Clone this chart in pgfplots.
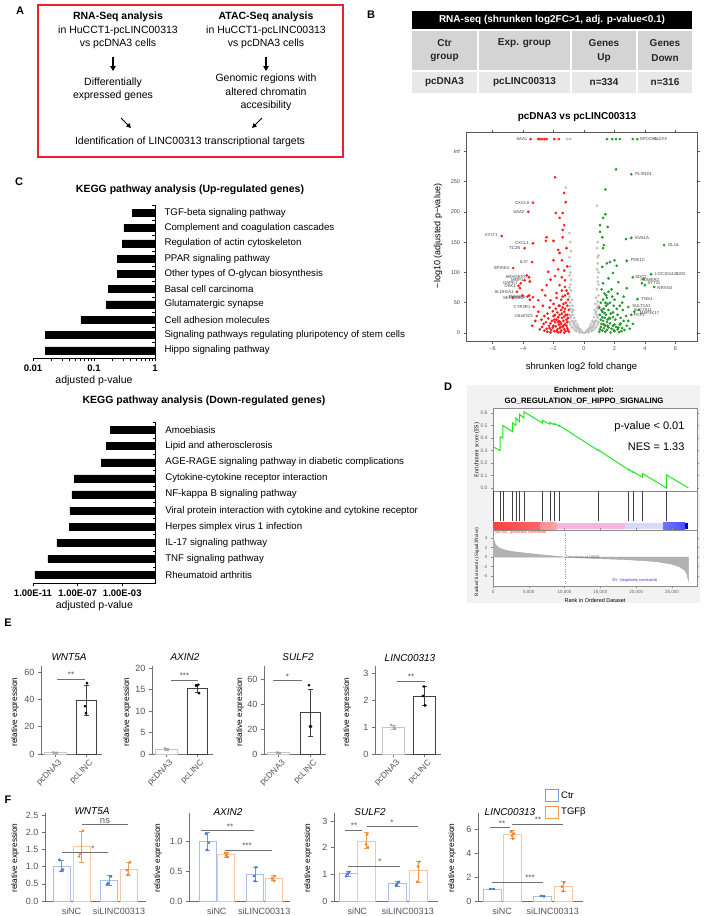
\documentclass[border=0pt]{standalone}
\usepackage{pgfplots}
\pgfplotsset{compat=1.18}
\usepackage{fontspec}
\setmainfont{Liberation Sans}
\newfontfamily\seriffont{Liberation Serif}
\usetikzlibrary{arrows.meta}
\definecolor{vred}{HTML}{FF1A1A}
\definecolor{vgreen}{HTML}{22962A}
\definecolor{vgray}{HTML}{C0C0C0}
\definecolor{boxred}{HTML}{E3262B}
\definecolor{ctrb}{HTML}{4A7BD1}
\definecolor{ctrbl}{HTML}{A9C0EA}
\definecolor{tgfo}{HTML}{F0852D}
\definecolor{tgfol}{HTML}{F8C6A0}
\definecolor{axg}{HTML}{707070}
\definecolor{txg}{HTML}{555555}
\definecolor{esgreen}{HTML}{22E622}
\newcommand\fz[1]{\fontsize{#1}{#1}\selectfont}
\newcommand\gl[3]{\node[font=\fz{4.3}, text=black!75, anchor=#1, inner sep=0.8pt] at (axis cs:#2) {#3};}
\pgfplotsset{
  every axis/.append style={scale only axis, anchor=south west, /pgf/number format/assume math mode=true},
  kegg/.style={axis x line*=bottom, axis y line*=right, axis line style={black, line width=0.6pt},
    tick align=outside, major tick length=3pt, tick style={black, line width=0.6pt},
    ytick={1,...,10}, major y tick style={draw=none},
    minor ytick={0.5,1.5,...,10.5}, minor tick length=3pt, minor y tick style={black, line width=0.6pt, xshift=-3pt},
    yticklabel style={font=\fz{9.7}, xshift=3pt},
    xticklabel style={font=\bfseries\fz{9.5}},
    xlabel={adjusted p-value}, xlabel style={font=\fz{10.5}, yshift=2pt}},
  ebase/.style={height=88pt, ymin=0, axis x line*=bottom, axis y line*=left,
    axis line style={axg, line width=0.7pt}, tick style={axg, line width=0.7pt},
    tick align=outside, major tick length=3pt,
    yticklabel style={font=\fz{9}, text=txg},
    clip=false},
  eb/.style={draw=none, mark=none, forget plot, error bars/.cd, y dir=both, y explicit,
    error bar style={draw=#1, line width=0.7pt}, error mark options={rotate=90, mark size=2.5pt, draw=#1, line width=0.7pt}},
}
\begin{document}
\begin{tikzpicture}[x=1pt,y=1pt]
\useasboundingbox (0,0) rectangle (704,-916);
\coordinate (pC1) at (33,-358);
\coordinate (pC2) at (33,-583);
\coordinate (pV) at (466,-341);
\coordinate (pD1) at (493,-491);
\coordinate (pD2) at (493,-530);
\coordinate (pD3) at (493,-586);
\coordinate (pE1) at (41,-754);
\coordinate (pE2) at (152,-754);
\coordinate (pE3) at (264,-754);
\coordinate (pE4) at (375,-754);
\coordinate (pF1) at (45,-901);
\coordinate (pF2) at (189,-901);
\coordinate (pF3) at (334,-901);
\coordinate (pF4) at (478,-901);
%% panel letters
\node[font=\bfseries\fz{11}] at (20,-11) {A};
\node[font=\bfseries\fz{11}] at (371,-15) {B};
\node[font=\bfseries\fz{11}] at (19,-182) {C};
\node[font=\bfseries\fz{11}] at (448,-387) {D};
\node[font=\bfseries\fz{11}] at (8,-623) {E};
\node[font=\bfseries\fz{11}] at (8,-800) {F};
%% panel A
\draw[boxred, line width=1.3pt] (38,-5) rectangle (343,-157);
\begin{scope}[every node/.style={font=\fz{10.5}, inner sep=0}]
\node[font=\bfseries\fz{10.5}] at (118,-17) {RNA-Seq analysis};
\node at (118,-31) {in HuCCT1-pcLINC00313};
\node at (118,-44) {vs pcDNA3 cells};
\node at (113,-83) {Differentially};
\node at (113,-96) {expressed genes};
\node[font=\bfseries\fz{10.5}] at (266,-17) {ATAC-Seq analysis};
\node at (266,-31) {in HuCCT1-pcLINC00313};
\node at (266,-44) {vs pcDNA3 cells};
\node at (266,-79) {Genomic regions with};
\node at (266,-92) {altered chromatin};
\node at (266,-106) {accesibility};
\node at (190,-142) {Identification of LINC00313 transcriptional targets};
\end{scope}
\draw[-{Triangle[length=5pt,width=5.5pt]}, line width=1.1pt] (113,-57) -- (113,-71);
\draw[-{Triangle[length=5pt,width=5.5pt]}, line width=1.1pt] (266,-57) -- (266,-71);
\draw[-{Triangle[length=4.5pt,width=4.5pt]}, line width=1pt] (121,-118) -- (131,-128);
\draw[-{Triangle[length=4.5pt,width=4.5pt]}, line width=1pt] (262,-118) -- (252,-128);
%% panel B table
\fill[black] (412,-11) rectangle (692,-29);
\node[text=white, font=\bfseries\fz{10}] at (552,-20) {RNA-seq (shrunken log2FC>1, adj. p-value<0.1)};
\fill[black!17] (412,-31) rectangle (477,-70);
\fill[black!17] (479,-31) rectangle (570,-70);
\fill[black!17] (572,-31) rectangle (636,-70);
\fill[black!17] (638,-31) rectangle (692,-70);
\fill[black!9] (412,-72) rectangle (477,-93);
\fill[black!9] (479,-72) rectangle (570,-93);
\fill[black!9] (572,-72) rectangle (636,-93);
\fill[black!9] (638,-72) rectangle (692,-93);
\begin{scope}[every node/.style={font=\bfseries\fz{10}, inner sep=0, text=black!85}]
\node at (444.5,-43) {Ctr}; \node at (444.5,-58) {group};
\node at (524.5,-43) {Exp. group};
\node at (604,-43) {Genes}; \node at (604,-58) {Up};
\node at (665,-43) {Genes}; \node at (665,-58) {Down};
\node at (444.5,-82) {pcDNA3}; \node at (524.5,-82) {pcLINC00313};
\node at (604,-82) {n=334}; \node at (665,-82) {n=316};
\end{scope}
%% panel C titles
\node[font=\bfseries\fz{10.5}] at (190,-190) {KEGG pathway analysis (Up-regulated genes)};
\node[font=\bfseries\fz{10.5}] at (204,-401) {KEGG pathway analysis (Down-regulated genes)};
\begin{axis}[kegg, at={(pC1)}, width=122pt, height=153pt, xmode=log, xmin=0.01, xmax=1,
  y dir=reverse, ymin=0.5, ymax=10.5,
  xtick={0.01,0.1,1}, xticklabels={0.01,0.1,1},
  yticklabels={TGF-beta signaling pathway, Complement and coagulation cascades, Regulation of actin cytoskeleton, PPAR signaling pathway, Other types of O-glycan biosynthesis, Basal cell carcinoma, Glutamatergic synapse, Cell adhesion molecules, Signaling pathways regulating pluripotency of stem cells, Hippo signaling pathway}]
\addplot[xbar, bar shift=0pt, bar width=7pt, fill=black, draw=black] coordinates {(0.42,1)(0.31,2)(0.29,3)(0.24,4)(0.24,5)(0.17,6)(0.16,7)(0.061,8)(0.016,9)(0.016,10)};
\end{axis}
\begin{axis}[kegg, at={(pC2)}, width=122.75pt, height=161pt, xmode=log, xmin=1e-11, xmax=1,
  y dir=reverse, ymin=0.5, ymax=10.5,
  xtick={1e-11,1e-7,1e-3}, xticklabels={1.00E-11,1.00E-07,1.00E-03},
  yticklabels={Amoebiasis, Lipid and atherosclerosis, AGE-RAGE signaling pathway in diabetic complications, Cytokine-cytokine receptor interaction, NF-kappa B signaling pathway, Viral protein interaction with cytokine and cytokine receptor, Herpes simplex virus 1 infection, IL-17 signaling pathway, TNF signaling pathway, Rheumatoid arthritis}]
\addplot[xbar, bar shift=0pt, bar width=7pt, fill=black, draw=black] coordinates {(8.5e-5,1)(3.8e-5,2)(1.35e-5,3)(5.4e-8,4)(3.0e-8,5)(2.0e-8,6)(1.9e-8,7)(1.35e-9,8)(2.1e-10,9)(1.5e-11,10)};
\end{axis}
%% volcano
\node[font=\bfseries\fz{10}] at (577,-117) {pcDNA3 vs pcLINC00313};
\node[rotate=90, font=\fz{9}] at (438,-236) {−log10 (adjusted p−value)};
\begin{axis}[at={(pV)}, width=231pt, height=209pt,
  xmin=-7.74, xmax=7.41, ymin=-13.2, ymax=331.7,
  axis line style={black!65, line width=0.5pt}, tick align=outside, major tick length=2.5pt, tick style={black!65, line width=0.5pt},
  xtick={-6,-4,...,6}, xticklabels={−6,−4,−2,0,2,4,6},
  ytick={0,50,100,150,200,250,300}, yticklabels={0,50,100,150,200,250,Inf},
  ticklabel style={font=\fz{5.5}, text=black!70},
  xlabel={shrunken log2 fold change}, xlabel style={font=\fz{9.5}, yshift=-5pt}, clip=false]
\addplot[only marks, mark=*, mark size=1.15pt, vgray] coordinates {
(0,0.5)(0.1,1)(-0.1,1)(0.2,2)(-0.2,2)(0.3,4)(-0.3,4)(0.4,6)(-0.4,6)(0.5,9)(-0.5,9)(0.6,12)(-0.6,12)(0.7,16)(-0.7,16)(0.8,20)(-0.8,20)(0.9,25)(-0.9,25)(0.95,30)(-0.95,30)
(-0.5,3)(-0.6,5)(-0.7,8)(-0.8,10)(-0.9,14)(-0.95,18)(0.5,3)(0.6,5)(0.7,8)(0.8,10)(0.9,14)(0.95,18)
(-0.45,15)(-0.55,20)(-0.65,25)(-0.75,30)(-0.85,40)(-0.9,50)(-0.95,60)(-0.85,70)(-0.9,80)(-0.95,95)(-0.9,110)(-0.95,125)(-0.85,135)(-0.9,150)(-0.95,165)(-0.8,55)(-0.75,45)(-0.7,38)(-0.85,88)(-0.95,75)(-0.9,100)
(0.45,15)(0.55,20)(0.65,26)(0.75,32)(0.85,42)(0.9,52)(0.95,62)(0.85,72)(0.9,85)(0.95,100)(0.9,115)(0.95,128)(0.85,140)(0.9,150)(0.85,210)(0.8,58)(0.75,48)(0.7,38)(0.9,92)(0.95,80)(0.85,105)(0.9,125)
(0.3,1)(-0.3,1)(0.35,8)(-0.35,8)(0.15,3)(-0.15,3)(0.25,6)(-0.25,6)(0.4,11)(-0.4,11)(0.6,18)(-0.6,18)
(-0.55,10)(-0.65,14)(-0.75,20)(-0.85,28)(0.55,10)(0.65,14)(0.75,20)(0.85,28)(-0.8,35)(0.8,35)(-0.9,40)(0.9,40)(-0.95,45)(0.95,45)
(-1.1,320)(-0.9,320)(-1.2,240)};
\addplot[only marks, mark=*, mark size=1.15pt, vred] coordinates {
(-3.5,320)(-3.0,320)(-2.9,320)(-2.75,320)(-2.6,320)(-2.45,320)(-1.95,320)(-1.65,320)
(-1.9,257)(-1.3,231)(-1.2,216)(-1.85,198)(-1.4,198)(-1.6,190)(-1.3,178)(-1.4,170)(-3.35,215)(-3.65,200)(-5.4,160)(-3.35,148)(-3.9,140)(-3.4,117)(-4.65,107)
(-2.45,158)(-2.5,152)(-2.0,152)(-1.4,158)(-1.7,137)(-1.6,132)(-2.0,120)(-1.45,120)(-2.35,101)(-1.9,94)(-1.45,92)(-1.25,87)(-3.55,85)(-3.9,87)(-4.2,74)(-2.75,71)(-2.45,79)(-1.6,79)(-1.25,76)(-1.8,66)(-3.35,59)(-3.6,62)(-3.0,54)(-2.55,62)(-2.2,54)(-1.8,58)(-3.3,43)(-4.65,58)(-4.05,62)(-3.1,28)(-1.15,140)(-1.1,110)(-1.3,103)(-1.7,105)(-2.2,88)(-1.05,65)
(-1.0,2)(-1.05,5)(-1.1,8)(-1.2,3)(-1.3,6)(-1.15,12)(-1.25,15)(-1.4,10)(-1.5,4)(-1.6,8)(-1.35,20)(-1.45,25)(-1.55,18)(-1.65,14)(-1.75,6)(-1.85,11)(-1.95,3)(-2.05,9)(-2.15,5)(-2.3,12)(-2.45,7)(-2.6,4)(-2.75,10)(-2.9,6)
(-1.2,30)(-1.3,35)(-1.4,42)(-1.5,38)(-1.6,30)(-1.7,26)(-1.8,22)(-1.9,18)(-2.0,28)(-2.1,20)(-2.2,16)(-2.35,24)(-2.5,18)(-2.65,15)(-2.8,22)(-1.1,45)(-1.2,50)(-1.35,48)(-1.5,55)(-1.65,45)(-1.85,40)(-2.05,36)(-2.25,42)(-2.4,32)(-2.6,28)(-1.05,25)(-1.1,18)(-1.0,38)(-1.3,0.5)(-1.7,1)(-2.2,1)(-1.05,55)(-1.25,62)(-1.45,70)(-2.7,45)(-3.0,35)(-3.2,20)(-3.4,12)(-1.55,1.5)(-1.9,30)(-2.0,48)
(-3.6,92)(-3.75,95)(-4.3,78)(-4.15,82)(-4.4,68)(-3.7,60)(-3.55,55)(-1.35,12)(-1.5,15)(-1.65,20)(-1.8,3)(-2.4,2)(-1.1,30)(-1.25,40)(-1.45,32)
(-1.15,22)(-1.3,27)(-1.55,10)(-1.7,18)(-2.0,12)(-2.25,8)(-1.95,22)(-1.6,45)(-1.4,60)(-1.15,70)(-1.75,34)};
\addplot[only marks, mark=*, mark size=1.15pt, vgreen] coordinates {
(1.5,320)(1.85,320)(2.1,320)(2.35,320)(3.2,320)(3.5,320)
(2.1,270)(3.1,262)(1.4,237)(1.4,196)(1.25,190)(1.05,178)(1.55,175)(1.05,167)(1.2,158)(1.3,145)(1.25,140)(2.75,155)(3.1,157)(5.25,145)(2.8,119)(2.0,120)(1.7,117)(2.15,111)(1.5,115)(1.2,109)(1.9,99)(3.2,92)(4.4,97)(3.9,89)(4.0,79)(4.6,76)(2.8,74)(2.25,84)(1.25,82)(1.6,90)(3.5,56)(2.9,43)(3.6,38)(3.3,35)(3.1,30)(2.6,60)(2.2,65)(1.8,72)(2.5,50)(3.8,82)
(1.0,2)(1.05,6)(1.1,10)(1.2,4)(1.3,8)(1.15,15)(1.25,20)(1.4,12)(1.5,5)(1.6,9)(1.35,25)(1.45,30)(1.55,22)(1.7,16)(1.8,7)(1.9,12)(2.0,3)(2.1,10)(2.2,6)(2.35,14)(2.5,8)(2.65,5)(2.8,12)(3.0,7)
(1.2,35)(1.3,40)(1.45,45)(1.6,38)(1.75,32)(1.9,26)(2.05,22)(2.2,30)(2.4,25)(2.6,20)(2.75,28)(1.1,50)(1.25,55)(1.5,58)(1.7,50)(1.95,45)(2.15,40)(2.35,45)(2.55,38)(1.05,30)(1.0,42)(1.35,65)(1.6,68)(2.0,55)(1.4,2)(1.75,1)(2.3,1.5)(3.2,15)(2.9,20)(1.1,22)(1.85,60)(1.3,14)(1.5,18)(1.65,25)(1.95,5)(2.45,3)(1.15,38)(1.4,50)
(1.2,26)(1.35,33)(1.55,12)(1.7,24)(2.0,14)(2.25,9)(1.9,34)(1.55,48)(1.45,62)(1.15,72)(2.4,16)};
\gl{east}{-3.65,320}{SAA1}
\gl{west}{3.6,320}{SPOCK1}
\gl{west}{4.5,320}{SULF2}
\gl{west}{3.3,262}{PLXND1}
\gl{east}{-3.55,215}{CXCL8}
\gl{east}{-3.85,200}{SAA2}
\gl{east}{-5.6,161}{XYLT1}
\gl{east}{-3.55,148}{CXCL1}
\gl{east}{-4.1,140}{TC2N}
\gl{east}{-3.6,117}{IL37}
\gl{east}{-4.85,107}{SPINK4}
\gl{west}{3.3,157}{EVA1A}
\gl{west}{5.45,145}{GLUL}
\gl{west}{3.0,120}{PDE1C}
\gl{west}{4.6,97}{LOC101448202}
\gl{west}{3.3,93}{SDC2}
\gl{west}{3.65,88}{HOMER2}
\gl{west}{4.1,82}{SYT11}
\gl{west}{4.75,75}{NRXN3}
\gl{west}{3.7,56}{TNS1}
\gl{west}{3.1,45}{SULT1A1}
\gl{west}{3.2,38}{SLC7A11}
\gl{west}{3.6,33}{MAP3K17}
\gl{west}{3.2,29}{FGF2}
\gl{east}{-3.75,92}{ARHGEF3}
\gl{east}{-3.9,88}{MMP1}
\gl{east}{-4.3,82}{DAPK1}
\gl{east}{-4.4,77}{DKK1}
\gl{east}{-4.55,68}{ALDH1A1}
\gl{east}{-3.75,60}{TNFAIP6}
\gl{east}{-3.85,57}{SERPINB2}
\gl{east}{-3.45,43}{CYP2R1}
\gl{east}{-3.3,28}{C6orf223}
\end{axis}
%% panel D GSEA
\fill[black!5] (467,-385) rectangle (700,-603);
\node[font=\bfseries\fz{7.5}] at (584,-391) {Enrichment plot:};
\node[font=\bfseries\fz{7.8}] at (584,-401) {GO\_REGULATION\_OF\_HIPPO\_SIGNALING};
\node[rotate=90, font=\seriffont\fz{6}] at (477,-450) {Enrichment score (ES)};
\node[rotate=90, font=\seriffont\fz{5}] at (477,-562) {Ranked list metric (Signal2Noise)};
\begin{axis}[at={(pD1)}, width=204pt, height=83pt, xmin=0, xmax=28500, ymin=-0.024, ymax=0.64,
  axis background/.style={fill=white}, axis line style={black!45, line width=0.4pt},
  xtick=\empty, ytick={0,0.1,0.2,0.3,0.4,0.5,0.6}, tick style={black!45}, major tick length=2pt, tick align=outside,
  yticklabel style={font=\fz{5}, text=black!60, /pgf/number format/fixed, /pgf/number format/precision=1, /pgf/number format/fixed zerofill}]
\addplot[esgreen, line width=1pt] coordinates {(0,0)(0,0.33)(980,0.30)(980,0.41)(1380,0.40)(1380,0.50)(2750,0.45)(2750,0.52)(3210,0.50)(3210,0.56)(3720,0.53)(3720,0.59)(4300,0.56)(4300,0.61)(6900,0.52)(6900,0.54)(7950,0.51)(7950,0.525)(8620,0.505)(8620,0.515)(9260,0.495)(9260,0.50)(14710,0.30)(14710,0.305)(18950,0.145)(18950,0.15)(19580,0.125)(19580,0.13)(20900,0.085)(20900,0.115)(24250,0.0)(24250,0.105)(27300,0.0)};
\end{axis}
\node[anchor=east, font=\fz{11}] at (688,-427) {p-value < 0.01};
\node[anchor=east, font=\fz{11}] at (688,-447) {NES = 1.33};
\begin{axis}[at={(pD2)}, width=204pt, height=39pt, xmin=0, xmax=28500, ymin=-0.3, ymax=1,
  axis background/.style={fill=white}, axis line style={black!45, line width=0.4pt}, xtick=\empty, ytick=\empty]
\addplot[ycomb, black!75, line width=0.5pt, mark=none] coordinates {(0,1)(980,1)(1380,1)(2750,1)(3210,1)(3720,1)(4300,1)(6900,1)(7950,1)(8620,1)(9260,1)(14710,1)(18950,1)(19580,1)(20900,1)(24250,1)};
\shade[left color=red!75, right color=red!60] (axis cs:0,-0.05) rectangle (axis cs:6570,-0.27);
\shade[left color=red!45, right color=red!35] (axis cs:6570,-0.05) rectangle (axis cs:8900,-0.27);
\fill[magenta!30] (axis cs:8900,-0.05) rectangle (axis cs:18440,-0.27);
\fill[blue!15] (axis cs:18440,-0.05) rectangle (axis cs:23750,-0.27);
\shade[left color=blue!55, right color=blue!70] (axis cs:23750,-0.05) rectangle (axis cs:26820,-0.27);
\fill[blue!85!black] (axis cs:26820,-0.05) rectangle (axis cs:27300,-0.27);
\end{axis}
\begin{axis}[at={(pD3)}, width=204pt, height=56pt, xmin=0, xmax=28500, ymin=-6.1, ymax=5.7,
  axis background/.style={fill=white}, axis line style={black!45, line width=0.4pt},
  tick style={black!45}, major tick length=2pt, tick align=outside, scaled x ticks=false,
  ytick={-4,-2,0,2,4}, xtick={0,5000,10000,15000,20000,25000}, xticklabels={0,{5,000},{10,000},{15,000},{20,000},{25,000}},
  ticklabel style={font=\fz{4.5}, text=black!60}, xticklabel style={yshift=1pt},
  xlabel={Rank in Ordered Dataset}, xlabel style={font=\fz{5.5}, yshift=3pt}]
\addplot[fill=black!30, draw=black!35] coordinates {(0,4.6)(100,3.8)(300,2.8)(600,2.2)(1000,1.8)(2000,1.35)(3000,1.1)(5000,0.75)(7000,0.45)(9000,0.15)(10059,0)(12000,-0.15)(15000,-0.35)(18000,-0.5)(21000,-0.75)(23000,-1.0)(25000,-1.5)(26000,-2.0)(26800,-2.8)(27100,-3.6)(27300,-5.0)(27300,0)} \closedcycle;
\draw[black!40, dotted] (axis cs:10059,-6.1) -- (axis cs:10059,5.7);
\node[font=\fz{3.8}, text=black!60, anchor=west, inner sep=0.5pt] at (axis cs:10059,0) {Zero cross at 10059};
\node[font=\fz{3.8}, text=red!80, anchor=north west, inner sep=0.5pt] at (axis cs:150,5.6) {'pcLINC' (positively correlated)};
\node[font=\fz{3.8}, text=blue!80, anchor=west, inner sep=0.5pt] at (axis cs:16500,-4.9) {'EV' (negatively correlated)};
\end{axis}
%% panel E
\begin{scope}[every node/.style={font=\itshape\fz{10}}]
\node at (69,-657) {WNT5A}; \node at (185,-657) {AXIN2}; \node at (298,-657) {SULF2}; \node at (410,-658) {LINC00313};
\node at (92,-811) {WNT5A}; \node at (228,-812) {AXIN2}; \node at (370,-812) {SULF2}; \node at (510,-812) {LINC00313};
\end{scope}
\begin{scope}[every node/.style={font=\fz{8.3}, rotate=90}]
\node at (15,-712) {relative expression}; \node at (127,-712) {relative expression};
\node at (240,-712) {relative expression}; \node at (347,-712) {relative expression};
\node at (15,-858) {relative expression}; \node at (158,-858) {relative expression};
\node at (308,-858) {relative expression}; \node at (452,-858) {relative expression};
\end{scope}
\pgfplotsset{erot/.style={xticklabel style={font=\fz{8.5}, text=txg, rotate=45, anchor=north east, xshift=4pt}}}
% E1
\begin{axis}[ebase, erot, at={(pE1)}, width=61pt, xmin=41, xmax=102, ymax=64.5, ytick={0,20,40,60}, xtick={55,86}, xticklabels={pcDNA3,pcLINC}]
\addplot[ybar, bar shift=0pt, bar width=22pt, draw=black!22, fill=white, line width=0.8pt] coordinates {(55,1.0)};
\addplot[ybar, bar shift=0pt, bar width=20pt, draw=black!75, fill=white, line width=0.8pt] coordinates {(86,39)};
\addplot[eb=black!30] coordinates {(55,1.0) +- (0,0.3)};
\addplot[eb=black!75] coordinates {(86,39) += (0,11.5) -= (0,10.5)};
\addplot[only marks, mark=*, mark size=1.1pt, black!35] coordinates {(53,1.3)(56,0.9)(57,0.8)};
\addplot[only marks, mark=*, mark size=1.2pt, black] coordinates {(87,52)(85,35)(86,30)};
\draw[axg, line width=0.6pt] (axis cs:57,55) -- (axis cs:85,55);
\node[font=\fz{8}, text=txg, inner sep=1pt, anchor=south] at (axis cs:71,55) {**};
\end{axis}
% E2
\begin{axis}[ebase, erot, at={(pE2)}, width=61pt, xmin=152, xmax=213, ymax=20.5, ytick={0,5,10,15,20}, xtick={166,197}, xticklabels={pcDNA3,pcLINC}]
\addplot[ybar, bar shift=0pt, bar width=22pt, draw=black!22, fill=white, line width=0.8pt] coordinates {(166,1.1)};
\addplot[ybar, bar shift=0pt, bar width=20pt, draw=black!75, fill=white, line width=0.8pt] coordinates {(197,15.3)};
\addplot[eb=black!30] coordinates {(166,1.1) += (0,0.25) -= (0,0.2)};
\addplot[eb=black!75] coordinates {(197,15.3) += (0,1.0) -= (0,0.9)};
\addplot[only marks, mark=*, mark size=1.1pt, black!35] coordinates {(165,1.35)(167,1.0)(168,0.95)};
\addplot[only marks, mark=*, mark size=1.2pt, black] coordinates {(196,15.9)(198,16.1)(199,14.2)};
\draw[axg, line width=0.6pt] (axis cs:171,17.2) -- (axis cs:198,17.2);
\node[font=\fz{8}, text=txg, inner sep=1pt, anchor=south] at (axis cs:184.5,17.2) {***};
\end{axis}
% E3
\begin{axis}[ebase, erot, at={(pE3)}, width=62pt, xmin=264, xmax=326, ymax=70.4, ytick={0,20,40,60}, xtick={278.5,310}, xticklabels={pcDNA3,pcLINC}]
\addplot[ybar, bar shift=0pt, bar width=22pt, draw=black!22, fill=white, line width=0.8pt] coordinates {(278.5,1.0)};
\addplot[ybar, bar shift=0pt, bar width=20pt, draw=black!75, fill=white, line width=0.8pt] coordinates {(310,33)};
\addplot[eb=black!30] coordinates {(278.5,1.0) +- (0,0.4)};
\addplot[eb=black!75] coordinates {(310,33) += (0,19) -= (0,19)};
\addplot[only marks, mark=*, mark size=1.1pt, black!35] coordinates {(277,1.3)(279,0.9)(280,0.8)};
\addplot[only marks, mark=*, mark size=1.2pt, black] coordinates {(309,55)(311,22)(310,22)};
\draw[axg, line width=0.6pt] (axis cs:273,59) -- (axis cs:302,59);
\node[font=\fz{8}, text=txg, inner sep=1pt, anchor=south] at (axis cs:287.5,59) {*};
\end{axis}
% E4
\begin{axis}[ebase, erot, at={(pE4)}, width=66pt, xmin=375, xmax=441, ymax=3.26, ytick={0,1,2,3}, xtick={393,424.5}, xticklabels={pcDNA3,pcLINC}]
\addplot[ybar, bar shift=0pt, bar width=22pt, draw=black!22, fill=white, line width=0.8pt] coordinates {(393,1.0)};
\addplot[ybar, bar shift=0pt, bar width=22pt, draw=black!75, fill=white, line width=0.8pt] coordinates {(424.5,2.15)};
\addplot[eb=black!30] coordinates {(393,1.0) +- (0,0.07)};
\addplot[eb=black!75] coordinates {(424.5,2.15) += (0,0.35) -= (0,0.35)};
\addplot[only marks, mark=*, mark size=1.1pt, black!35] coordinates {(391,1.08)(394,0.98)(395,0.95)};
\addplot[only marks, mark=*, mark size=1.2pt, black] coordinates {(424,2.5)(423,2.15)(425,1.8)};
\draw[axg, line width=0.6pt] (axis cs:397,2.7) -- (axis cs:425,2.7);
\node[font=\fz{8}, text=txg, inner sep=1pt, anchor=south] at (axis cs:411,2.7) {**};
\end{axis}
%% panel F
\draw[ctrb!75, line width=1pt] (545,-789) rectangle (558,-801);
\draw[tgfo!80, line width=1pt] (545,-806) rectangle (558,-818);
\node[font=\fz{9.5}, anchor=west, inner sep=0] at (561,-795) {Ctr};
\node[font=\fz{9.5}, anchor=west, inner sep=0] at (561,-812) {TGFβ};
\pgfplotsset{fx/.style={xticklabel style={font=\fz{9}, text=txg}, major x tick style={draw=none}}}
% F1
\begin{axis}[ebase, fx, at={(pF1)}, width=101pt, xmin=45, xmax=146, ymax=2.57, ytick={0,0.5,1,1.5,2,2.5},
  yticklabel style={/pgf/number format/fixed, /pgf/number format/precision=1, /pgf/number format/fixed zerofill},
  xtick={71.5,119}, xticklabels={siNC,siLINC00313}]
\addplot[ybar, bar shift=0pt, bar width=17pt, draw=ctrbl, fill=white, line width=1pt] coordinates {(61.5,1.02)(109,0.6)};
\addplot[ybar, bar shift=0pt, bar width=17pt, draw=tgfol, fill=white, line width=1pt] coordinates {(81.5,1.58)(128.5,0.93)};
\addplot[eb=ctrb!80] coordinates {(61.5,1.02) += (0,0.18) -= (0,0.16) (109,0.6) += (0,0.15) -= (0,0.15)};
\addplot[eb=tgfo!80] coordinates {(81.5,1.58) += (0,0.44) -= (0,0.45) (128.5,0.93) += (0,0.2) -= (0,0.18)};
\addplot[only marks, mark=*, mark size=1.2pt, ctrb] coordinates {(59.5,1.2)(63,0.92)(61.5,0.88)(111,0.72)(108,0.52)(107,0.48)};
\addplot[only marks, mark=*, mark size=1.2pt, tgfo] coordinates {(83,2.05)(80,1.38)(79,1.3)(130,1.13)(127,0.9)(128,0.78)};
\draw[axg, line width=0.6pt] (axis cs:62,1.42) -- (axis cs:108,1.42);
\node[font=\fz{8}, text=txg, inner sep=1pt, anchor=south] at (axis cs:93,1.42) {*};
\draw[axg, line width=0.6pt] (axis cs:82,2.24) -- (axis cs:128,2.24);
\node[font=\fz{9.5}, text=txg, inner sep=0.3pt, anchor=south] at (axis cs:105,2.24) {ns};
\end{axis}
% F2
\begin{axis}[ebase, fx, at={(pF2)}, width=101pt, xmin=189, xmax=290, ymax=1.48, ytick={0,0.5,1},
  yticklabel style={/pgf/number format/fixed, /pgf/number format/precision=1, /pgf/number format/fixed zerofill},
  xtick={216.75,264.25}, xticklabels={siNC,siLINC00313}]
\addplot[ybar, bar shift=0pt, bar width=17pt, draw=ctrbl, fill=white, line width=1pt] coordinates {(207.5,1.0)(255,0.45)};
\addplot[ybar, bar shift=0pt, bar width=17pt, draw=tgfol, fill=white, line width=1pt] coordinates {(226,0.78)(273.5,0.38)};
\addplot[eb=ctrb!80] coordinates {(207.5,1.0) += (0,0.15) -= (0,0.15) (255,0.45) += (0,0.12) -= (0,0.12)};
\addplot[eb=tgfo!80] coordinates {(226,0.78) += (0,0.04) -= (0,0.04) (273.5,0.38) += (0,0.05) -= (0,0.04)};
\addplot[only marks, mark=*, mark size=1.2pt, ctrb] coordinates {(206,1.13)(209,0.98)(207,0.86)(256,0.57)(254,0.42)(255,0.34)};
\addplot[only marks, mark=*, mark size=1.2pt, tgfo] coordinates {(225,0.81)(227,0.79)(226,0.76)(228,0.74)(275,0.42)(272,0.38)(274,0.34)};
\draw[axg, line width=0.6pt] (axis cs:201,1.19) -- (axis cs:254,1.19);
\node[font=\fz{8}, text=txg, inner sep=1pt, anchor=south] at (axis cs:230,1.19) {**};
\draw[axg, line width=0.6pt] (axis cs:225,0.86) -- (axis cs:272,0.86);
\node[font=\fz{8}, text=txg, inner sep=1pt, anchor=south] at (axis cs:247,0.86) {***};
\end{axis}
% F3
\begin{axis}[ebase, fx, at={(pF3)}, width=104pt, xmin=334, xmax=438, ymax=3.3, ytick={0,1,2,3},
  xtick={357.25,407.75}, xticklabels={siNC,siLINC00313}]
\addplot[ybar, bar shift=0pt, bar width=18pt, draw=ctrbl, fill=white, line width=1pt] coordinates {(348,1.02)(397.5,0.64)};
\addplot[ybar, bar shift=0pt, bar width=18pt, draw=tgfol, fill=white, line width=1pt] coordinates {(366.5,2.22)(418,1.16)};
\addplot[eb=ctrb!80] coordinates {(348,1.02) += (0,0.08) -= (0,0.08) (397.5,0.64) += (0,0.1) -= (0,0.09)};
\addplot[eb=tgfo!80] coordinates {(366.5,2.22) += (0,0.34) -= (0,0.26) (418,1.16) += (0,0.34) -= (0,0.46)};
\addplot[only marks, mark=*, mark size=1.2pt, ctrb] coordinates {(349,1.08)(347,1.02)(346,0.93)(399,0.72)(397,0.64)(396,0.58)};
\addplot[only marks, mark=*, mark size=1.2pt, tgfo] coordinates {(367,2.5)(366,2.12)(368,2.02)(419,1.47)(418,1.3)(417,0.72)};
\draw[axg, line width=0.6pt] (axis cs:345,2.66) -- (axis cs:362,2.66);
\node[font=\fz{8}, text=txg, inner sep=1pt, anchor=south] at (axis cs:354,2.66) {**};
\draw[axg, line width=0.6pt] (axis cs:367,2.8) -- (axis cs:418,2.8);
\node[font=\fz{8}, text=txg, inner sep=1pt, anchor=south] at (axis cs:392,2.8) {*};
\draw[axg, line width=0.6pt] (axis cs:348,1.31) -- (axis cs:400,1.31);
\node[font=\fz{8}, text=txg, inner sep=1pt, anchor=south] at (axis cs:380,1.31) {*};
\end{axis}
% F4
\begin{axis}[ebase, fx, at={(pF4)}, width=105pt, xmin=478, xmax=583, ymax=7.33, ytick={0,2,4,6},
  xtick={502,552.75}, xticklabels={siNC,siLINC00313}]
\addplot[ybar, bar shift=0pt, bar width=18pt, draw=ctrbl, fill=white, line width=1pt] coordinates {(492,1.0)(542.5,0.4)};
\addplot[ybar, bar shift=0pt, bar width=18pt, draw=tgfol, fill=white, line width=1pt] coordinates {(512,5.5)(563,1.2)};
\addplot[eb=ctrb!80] coordinates {(492,1.0) += (0,0.04) -= (0,0.03) (542.5,0.4) += (0,0.05) -= (0,0.05)};
\addplot[eb=tgfo!80] coordinates {(512,5.5) += (0,0.35) -= (0,0.3) (563,1.2) += (0,0.4) -= (0,0.4)};
\addplot[only marks, mark=*, mark size=1.2pt, ctrb] coordinates {(490,1.0)(494,1.0)(541,0.42)(544,0.38)};
\addplot[only marks, mark=*, mark size=1.2pt, tgfo] coordinates {(511,5.78)(514,5.62)(512,5.45)(513,5.2)(564,1.55)(562,1.2)(563,0.82)};
\draw[axg, line width=0.6pt] (axis cs:490,6.1) -- (axis cs:510,6.1);
\node[font=\fz{8}, text=txg, inner sep=1pt, anchor=south] at (axis cs:502,6.1) {**};
\draw[axg, line width=0.6pt] (axis cs:512,6.4) -- (axis cs:563,6.4);
\node[font=\fz{8}, text=txg, inner sep=1pt, anchor=south] at (axis cs:538,6.4) {**};
\draw[axg, line width=0.6pt] (axis cs:492,1.6) -- (axis cs:543,1.6);
\node[font=\fz{8}, text=txg, inner sep=1pt, anchor=south] at (axis cs:530,1.6) {***};
\end{axis}
\end{tikzpicture}
\end{document}
